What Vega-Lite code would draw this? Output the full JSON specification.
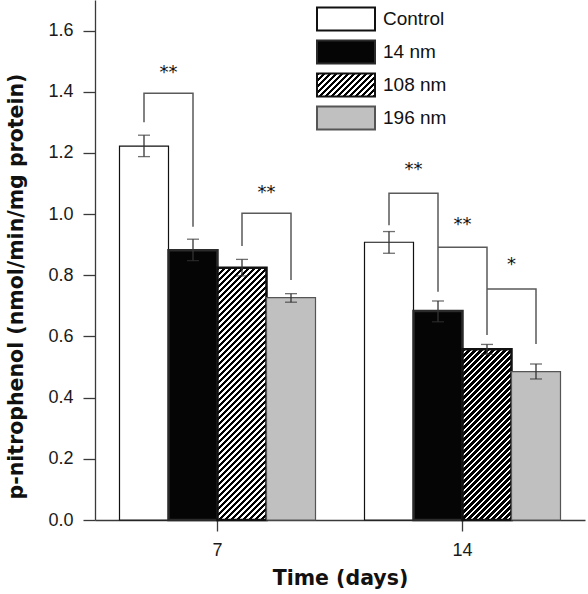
{
"$schema":"https://vega.github.io/schema/vega-lite/v6.json",
"width":490,"height":520,
"autosize":{"type":"none"},
"padding":{"left":95,"top":0,"right":3,"bottom":74},
"background":"white",
"config":{"view":{"stroke":null},"font":"Liberation Sans",
 "axis":{"domainColor":"#3a3a3a","tickColor":"#3a3a3a","domainWidth":1.3,"tickWidth":1.3,"labelColor":"#1a1a1a","titleColor":"#111111","labelFont":"Liberation Sans","titleFont":"DejaVu Sans","titleFontWeight":"bold","titleFontSize":20.5,"grid":false}},
"datasets":{
 "bars":[
  {"time":"7","group":"Control","mean":1.222,"lo":1.188,"hi":1.258},
  {"time":"7","group":"14 nm","mean":0.882,"lo":0.848,"hi":0.918},
  {"time":"7","group":"108 nm","mean":0.825,"lo":0.798,"hi":0.852},
  {"time":"7","group":"196 nm","mean":0.727,"lo":0.712,"hi":0.740},
  {"time":"14","group":"Control","mean":0.908,"lo":0.872,"hi":0.943},
  {"time":"14","group":"14 nm","mean":0.683,"lo":0.648,"hi":0.716},
  {"time":"14","group":"108 nm","mean":0.558,"lo":0.542,"hi":0.574},
  {"time":"14","group":"196 nm","mean":0.485,"lo":0.461,"hi":0.510}
 ],
 "brackets":[
  {"bracket":"b1","time":"7","group":"Control","ord":1,"v":1.300},
  {"bracket":"b1","time":"7","group":"Control","ord":2,"v":1.395},
  {"bracket":"b1","time":"7","group":"14 nm","ord":3,"v":1.395},
  {"bracket":"b1","time":"7","group":"14 nm","ord":4,"v":0.959},
  {"bracket":"b2","time":"7","group":"108 nm","ord":1,"v":0.896},
  {"bracket":"b2","time":"7","group":"108 nm","ord":2,"v":1.003},
  {"bracket":"b2","time":"7","group":"196 nm","ord":3,"v":1.003},
  {"bracket":"b2","time":"7","group":"196 nm","ord":4,"v":0.785},
  {"bracket":"b3","time":"14","group":"Control","ord":1,"v":0.964},
  {"bracket":"b3","time":"14","group":"Control","ord":2,"v":1.068},
  {"bracket":"b3","time":"14","group":"14 nm","ord":3,"v":1.068},
  {"bracket":"b3","time":"14","group":"14 nm","ord":4,"v":0.746},
  {"bracket":"b4","time":"14","group":"14 nm","ord":1,"v":0.892},
  {"bracket":"b4","time":"14","group":"108 nm","ord":2,"v":0.892},
  {"bracket":"b4","time":"14","group":"108 nm","ord":3,"v":0.605},
  {"bracket":"b5","time":"14","group":"108 nm","ord":1,"v":0.755},
  {"bracket":"b5","time":"14","group":"196 nm","ord":2,"v":0.755},
  {"bracket":"b5","time":"14","group":"196 nm","ord":3,"v":0.575}
 ],
 "stars":[
  {"time":"7","group":"14 nm","label":"**","v":1.445},
  {"time":"7","group":"196 nm","label":"**","v":1.054},
  {"time":"14","group":"14 nm","label":"**","v":1.128},
  {"time":"14","group":"108 nm","label":"**","v":0.948},
  {"time":"14","group":"196 nm","label":"*","v":0.817}
 ]
},
"encoding":{
 "x":{"field":"time","type":"nominal","sort":["7","14"],"scale":{"paddingInner":0,"paddingOuter":0},
  "axis":{"title":"Time (days)","labelAngle":0,"labelFontSize":18,"tickSize":11,"labelPadding":10,"titlePadding":9}},
 "xOffset":{"field":"group","type":"nominal","sort":["Control","14 nm","108 nm","196 nm"],
  "scale":{"domain":["Control","14 nm","108 nm","196 nm"],"paddingInner":0,"paddingOuter":0.5}}
},
"layer":[
 {"data":{"name":"bars"},"mark":{"type":"bar"},
  "encoding":{
   "y":{"field":"mean","type":"quantitative","scale":{"domain":[0,1.7],"nice":false},
    "axis":{"title":"p-nitrophenol (nmol/min/mg protein)","values":[0,0.1,0.2,0.3,0.4,0.5,0.6,0.7,0.8,0.9,1,1.1,1.2,1.3,1.4,1.5,1.6],
     "labelExpr":"round(datum.value*10) % 2 === 0 ? format(datum.value, '.1f') : ''",
     "tickSize":{"condition":{"test":"round(datum.value*10) % 2 === 0","value":12},"value":6},
     "labelFontSize":18,"labelPadding":10,"titlePadding":21,"titleFontSize":20.5,"titleY":286}},
   "fill":{"field":"group","type":"nominal",
    "scale":{"domain":["Control","14 nm","108 nm","196 nm"],"range":["#ffffff","#050505",
     {"expr":"{gradient:'linear',x1:0,y1:0,x2:4.459,y2:1.7836,stops:[{offset:0,color:'#000'},{offset:0.011,color:'#000'},{offset:0.011,color:'#fff'},{offset:0.02,color:'#fff'},{offset:0.02,color:'#000'},{offset:0.031,color:'#000'},{offset:0.031,color:'#fff'},{offset:0.04,color:'#fff'},{offset:0.04,color:'#000'},{offset:0.051,color:'#000'},{offset:0.051,color:'#fff'},{offset:0.06,color:'#fff'},{offset:0.06,color:'#000'},{offset:0.071,color:'#000'},{offset:0.071,color:'#fff'},{offset:0.08,color:'#fff'},{offset:0.08,color:'#000'},{offset:0.091,color:'#000'},{offset:0.091,color:'#fff'},{offset:0.1,color:'#fff'},{offset:0.1,color:'#000'},{offset:0.111,color:'#000'},{offset:0.111,color:'#fff'},{offset:0.12,color:'#fff'},{offset:0.12,color:'#000'},{offset:0.131,color:'#000'},{offset:0.131,color:'#fff'},{offset:0.14,color:'#fff'},{offset:0.14,color:'#000'},{offset:0.151,color:'#000'},{offset:0.151,color:'#fff'},{offset:0.16,color:'#fff'},{offset:0.16,color:'#000'},{offset:0.171,color:'#000'},{offset:0.171,color:'#fff'},{offset:0.18,color:'#fff'},{offset:0.18,color:'#000'},{offset:0.191,color:'#000'},{offset:0.191,color:'#fff'},{offset:0.2,color:'#fff'},{offset:0.2,color:'#000'},{offset:0.211,color:'#000'},{offset:0.211,color:'#fff'},{offset:0.22,color:'#fff'},{offset:0.22,color:'#000'},{offset:0.231,color:'#000'},{offset:0.231,color:'#fff'},{offset:0.24,color:'#fff'},{offset:0.24,color:'#000'},{offset:0.251,color:'#000'},{offset:0.251,color:'#fff'},{offset:0.26,color:'#fff'},{offset:0.26,color:'#000'},{offset:0.271,color:'#000'},{offset:0.271,color:'#fff'},{offset:0.28,color:'#fff'}]}"},
     "#c0c0c0"]},
    "condition":[
     {"test":"datum.group==='108 nm' && datum.time==='7'","value":{"gradient":"linear","x1":0,"y1":0,"x2":0.2225,"y2":1.1456,"stops":[
{"offset":0,"color":"#000"},{"offset":0.011,"color":"#000"},{"offset":0.011,"color":"#fff"},{"offset":0.02,"color":"#fff"},
{"offset":0.02,"color":"#000"},{"offset":0.031,"color":"#000"},{"offset":0.031,"color":"#fff"},{"offset":0.04,"color":"#fff"},
{"offset":0.04,"color":"#000"},{"offset":0.051,"color":"#000"},{"offset":0.051,"color":"#fff"},{"offset":0.06,"color":"#fff"},
{"offset":0.06,"color":"#000"},{"offset":0.071,"color":"#000"},{"offset":0.071,"color":"#fff"},{"offset":0.08,"color":"#fff"},
{"offset":0.08,"color":"#000"},{"offset":0.091,"color":"#000"},{"offset":0.091,"color":"#fff"},{"offset":0.1,"color":"#fff"},
{"offset":0.1,"color":"#000"},{"offset":0.111,"color":"#000"},{"offset":0.111,"color":"#fff"},{"offset":0.12,"color":"#fff"},
{"offset":0.12,"color":"#000"},{"offset":0.131,"color":"#000"},{"offset":0.131,"color":"#fff"},{"offset":0.14,"color":"#fff"},
{"offset":0.14,"color":"#000"},{"offset":0.151,"color":"#000"},{"offset":0.151,"color":"#fff"},{"offset":0.16,"color":"#fff"},
{"offset":0.16,"color":"#000"},{"offset":0.171,"color":"#000"},{"offset":0.171,"color":"#fff"},{"offset":0.18,"color":"#fff"},
{"offset":0.18,"color":"#000"},{"offset":0.191,"color":"#000"},{"offset":0.191,"color":"#fff"},{"offset":0.2,"color":"#fff"},
{"offset":0.2,"color":"#000"},{"offset":0.211,"color":"#000"},{"offset":0.211,"color":"#fff"},{"offset":0.22,"color":"#fff"},
{"offset":0.22,"color":"#000"},{"offset":0.231,"color":"#000"},{"offset":0.231,"color":"#fff"},{"offset":0.24,"color":"#fff"},
{"offset":0.24,"color":"#000"},{"offset":0.251,"color":"#000"},{"offset":0.251,"color":"#fff"},{"offset":0.26,"color":"#fff"},
{"offset":0.26,"color":"#000"},{"offset":0.271,"color":"#000"},{"offset":0.271,"color":"#fff"},{"offset":0.28,"color":"#fff"},
{"offset":0.28,"color":"#000"},{"offset":0.291,"color":"#000"},{"offset":0.291,"color":"#fff"},{"offset":0.3,"color":"#fff"},
{"offset":0.3,"color":"#000"},{"offset":0.311,"color":"#000"},{"offset":0.311,"color":"#fff"},{"offset":0.32,"color":"#fff"},
{"offset":0.32,"color":"#000"},{"offset":0.331,"color":"#000"},{"offset":0.331,"color":"#fff"},{"offset":0.34,"color":"#fff"},
{"offset":0.34,"color":"#000"},{"offset":0.351,"color":"#000"},{"offset":0.351,"color":"#fff"},{"offset":0.36,"color":"#fff"},
{"offset":0.36,"color":"#000"},{"offset":0.371,"color":"#000"},{"offset":0.371,"color":"#fff"},{"offset":0.38,"color":"#fff"},
{"offset":0.38,"color":"#000"},{"offset":0.391,"color":"#000"},{"offset":0.391,"color":"#fff"},{"offset":0.4,"color":"#fff"},
{"offset":0.4,"color":"#000"},{"offset":0.411,"color":"#000"},{"offset":0.411,"color":"#fff"},{"offset":0.42,"color":"#fff"},
{"offset":0.42,"color":"#000"},{"offset":0.431,"color":"#000"},{"offset":0.431,"color":"#fff"},{"offset":0.44,"color":"#fff"},
{"offset":0.44,"color":"#000"},{"offset":0.451,"color":"#000"},{"offset":0.451,"color":"#fff"},{"offset":0.46,"color":"#fff"},
{"offset":0.46,"color":"#000"},{"offset":0.471,"color":"#000"},{"offset":0.471,"color":"#fff"},{"offset":0.48,"color":"#fff"},
{"offset":0.48,"color":"#000"},{"offset":0.491,"color":"#000"},{"offset":0.491,"color":"#fff"},{"offset":0.5,"color":"#fff"},
{"offset":0.5,"color":"#000"},{"offset":0.511,"color":"#000"},{"offset":0.511,"color":"#fff"},{"offset":0.52,"color":"#fff"},
{"offset":0.52,"color":"#000"},{"offset":0.531,"color":"#000"},{"offset":0.531,"color":"#fff"},{"offset":0.54,"color":"#fff"},
{"offset":0.54,"color":"#000"},{"offset":0.551,"color":"#000"},{"offset":0.551,"color":"#fff"},{"offset":0.56,"color":"#fff"},
{"offset":0.56,"color":"#000"},{"offset":0.571,"color":"#000"},{"offset":0.571,"color":"#fff"},{"offset":0.58,"color":"#fff"},
{"offset":0.58,"color":"#000"},{"offset":0.591,"color":"#000"},{"offset":0.591,"color":"#fff"},{"offset":0.6,"color":"#fff"},
{"offset":0.6,"color":"#000"},{"offset":0.611,"color":"#000"},{"offset":0.611,"color":"#fff"},{"offset":0.62,"color":"#fff"},
{"offset":0.62,"color":"#000"},{"offset":0.631,"color":"#000"},{"offset":0.631,"color":"#fff"},{"offset":0.64,"color":"#fff"},
{"offset":0.64,"color":"#000"},{"offset":0.651,"color":"#000"},{"offset":0.651,"color":"#fff"},{"offset":0.66,"color":"#fff"},
{"offset":0.66,"color":"#000"},{"offset":0.671,"color":"#000"},{"offset":0.671,"color":"#fff"},{"offset":0.68,"color":"#fff"},
{"offset":0.68,"color":"#000"},{"offset":0.691,"color":"#000"},{"offset":0.691,"color":"#fff"},{"offset":0.7,"color":"#fff"},
{"offset":0.7,"color":"#000"},{"offset":0.711,"color":"#000"},{"offset":0.711,"color":"#fff"},{"offset":0.72,"color":"#fff"},
{"offset":0.72,"color":"#000"},{"offset":0.731,"color":"#000"},{"offset":0.731,"color":"#fff"},{"offset":0.74,"color":"#fff"},
{"offset":0.74,"color":"#000"},{"offset":0.751,"color":"#000"},{"offset":0.751,"color":"#fff"},{"offset":0.76,"color":"#fff"},
{"offset":0.76,"color":"#000"},{"offset":0.771,"color":"#000"},{"offset":0.771,"color":"#fff"},{"offset":0.78,"color":"#fff"},
{"offset":0.78,"color":"#000"},{"offset":0.791,"color":"#000"},{"offset":0.791,"color":"#fff"},{"offset":0.8,"color":"#fff"},
{"offset":0.8,"color":"#000"},{"offset":0.811,"color":"#000"},{"offset":0.811,"color":"#fff"},{"offset":0.82,"color":"#fff"},
{"offset":0.82,"color":"#000"},{"offset":0.831,"color":"#000"},{"offset":0.831,"color":"#fff"},{"offset":0.84,"color":"#fff"},
{"offset":0.84,"color":"#000"},{"offset":0.851,"color":"#000"},{"offset":0.851,"color":"#fff"},{"offset":0.86,"color":"#fff"},
{"offset":0.86,"color":"#000"},{"offset":0.871,"color":"#000"},{"offset":0.871,"color":"#fff"},{"offset":0.88,"color":"#fff"},
{"offset":0.88,"color":"#000"},{"offset":0.891,"color":"#000"},{"offset":0.891,"color":"#fff"},{"offset":0.9,"color":"#fff"},
{"offset":0.9,"color":"#000"},{"offset":0.911,"color":"#000"},{"offset":0.911,"color":"#fff"},{"offset":0.92,"color":"#fff"},
{"offset":0.92,"color":"#000"},{"offset":0.931,"color":"#000"},{"offset":0.931,"color":"#fff"},{"offset":0.94,"color":"#fff"},
{"offset":0.94,"color":"#000"},{"offset":0.951,"color":"#000"},{"offset":0.951,"color":"#fff"},{"offset":0.96,"color":"#fff"},
{"offset":0.96,"color":"#000"},{"offset":0.971,"color":"#000"},{"offset":0.971,"color":"#fff"},{"offset":0.98,"color":"#fff"},
{"offset":0.98,"color":"#000"},{"offset":0.991,"color":"#000"},{"offset":0.991,"color":"#fff"},{"offset":1,"color":"#fff"}
     ]}},
     {"test":"datum.group==='108 nm' && datum.time==='14'","value":{"gradient":"linear","x1":0,"y1":0,"x2":0.4662,"y2":1.6238,"stops":[
{"offset":0,"color":"#000"},{"offset":0.011,"color":"#000"},{"offset":0.011,"color":"#fff"},{"offset":0.02,"color":"#fff"},
{"offset":0.02,"color":"#000"},{"offset":0.031,"color":"#000"},{"offset":0.031,"color":"#fff"},{"offset":0.04,"color":"#fff"},
{"offset":0.04,"color":"#000"},{"offset":0.051,"color":"#000"},{"offset":0.051,"color":"#fff"},{"offset":0.06,"color":"#fff"},
{"offset":0.06,"color":"#000"},{"offset":0.071,"color":"#000"},{"offset":0.071,"color":"#fff"},{"offset":0.08,"color":"#fff"},
{"offset":0.08,"color":"#000"},{"offset":0.091,"color":"#000"},{"offset":0.091,"color":"#fff"},{"offset":0.1,"color":"#fff"},
{"offset":0.1,"color":"#000"},{"offset":0.111,"color":"#000"},{"offset":0.111,"color":"#fff"},{"offset":0.12,"color":"#fff"},
{"offset":0.12,"color":"#000"},{"offset":0.131,"color":"#000"},{"offset":0.131,"color":"#fff"},{"offset":0.14,"color":"#fff"},
{"offset":0.14,"color":"#000"},{"offset":0.151,"color":"#000"},{"offset":0.151,"color":"#fff"},{"offset":0.16,"color":"#fff"},
{"offset":0.16,"color":"#000"},{"offset":0.171,"color":"#000"},{"offset":0.171,"color":"#fff"},{"offset":0.18,"color":"#fff"},
{"offset":0.18,"color":"#000"},{"offset":0.191,"color":"#000"},{"offset":0.191,"color":"#fff"},{"offset":0.2,"color":"#fff"},
{"offset":0.2,"color":"#000"},{"offset":0.211,"color":"#000"},{"offset":0.211,"color":"#fff"},{"offset":0.22,"color":"#fff"},
{"offset":0.22,"color":"#000"},{"offset":0.231,"color":"#000"},{"offset":0.231,"color":"#fff"},{"offset":0.24,"color":"#fff"},
{"offset":0.24,"color":"#000"},{"offset":0.251,"color":"#000"},{"offset":0.251,"color":"#fff"},{"offset":0.26,"color":"#fff"},
{"offset":0.26,"color":"#000"},{"offset":0.271,"color":"#000"},{"offset":0.271,"color":"#fff"},{"offset":0.28,"color":"#fff"},
{"offset":0.28,"color":"#000"},{"offset":0.291,"color":"#000"},{"offset":0.291,"color":"#fff"},{"offset":0.3,"color":"#fff"},
{"offset":0.3,"color":"#000"},{"offset":0.311,"color":"#000"},{"offset":0.311,"color":"#fff"},{"offset":0.32,"color":"#fff"},
{"offset":0.32,"color":"#000"},{"offset":0.331,"color":"#000"},{"offset":0.331,"color":"#fff"},{"offset":0.34,"color":"#fff"},
{"offset":0.34,"color":"#000"},{"offset":0.351,"color":"#000"},{"offset":0.351,"color":"#fff"},{"offset":0.36,"color":"#fff"},
{"offset":0.36,"color":"#000"},{"offset":0.371,"color":"#000"},{"offset":0.371,"color":"#fff"},{"offset":0.38,"color":"#fff"},
{"offset":0.38,"color":"#000"},{"offset":0.391,"color":"#000"},{"offset":0.391,"color":"#fff"},{"offset":0.4,"color":"#fff"},
{"offset":0.4,"color":"#000"},{"offset":0.411,"color":"#000"},{"offset":0.411,"color":"#fff"},{"offset":0.42,"color":"#fff"},
{"offset":0.42,"color":"#000"},{"offset":0.431,"color":"#000"},{"offset":0.431,"color":"#fff"},{"offset":0.44,"color":"#fff"},
{"offset":0.44,"color":"#000"},{"offset":0.451,"color":"#000"},{"offset":0.451,"color":"#fff"},{"offset":0.46,"color":"#fff"},
{"offset":0.46,"color":"#000"},{"offset":0.471,"color":"#000"},{"offset":0.471,"color":"#fff"},{"offset":0.48,"color":"#fff"},
{"offset":0.48,"color":"#000"},{"offset":0.491,"color":"#000"},{"offset":0.491,"color":"#fff"},{"offset":0.5,"color":"#fff"},
{"offset":0.5,"color":"#000"},{"offset":0.511,"color":"#000"},{"offset":0.511,"color":"#fff"},{"offset":0.52,"color":"#fff"},
{"offset":0.52,"color":"#000"},{"offset":0.531,"color":"#000"},{"offset":0.531,"color":"#fff"},{"offset":0.54,"color":"#fff"},
{"offset":0.54,"color":"#000"},{"offset":0.551,"color":"#000"},{"offset":0.551,"color":"#fff"},{"offset":0.56,"color":"#fff"},
{"offset":0.56,"color":"#000"},{"offset":0.571,"color":"#000"},{"offset":0.571,"color":"#fff"},{"offset":0.58,"color":"#fff"},
{"offset":0.58,"color":"#000"},{"offset":0.591,"color":"#000"},{"offset":0.591,"color":"#fff"},{"offset":0.6,"color":"#fff"},
{"offset":0.6,"color":"#000"},{"offset":0.611,"color":"#000"},{"offset":0.611,"color":"#fff"},{"offset":0.62,"color":"#fff"},
{"offset":0.62,"color":"#000"},{"offset":0.631,"color":"#000"},{"offset":0.631,"color":"#fff"},{"offset":0.64,"color":"#fff"},
{"offset":0.64,"color":"#000"},{"offset":0.651,"color":"#000"},{"offset":0.651,"color":"#fff"},{"offset":0.66,"color":"#fff"},
{"offset":0.66,"color":"#000"},{"offset":0.671,"color":"#000"},{"offset":0.671,"color":"#fff"},{"offset":0.68,"color":"#fff"},
{"offset":0.68,"color":"#000"},{"offset":0.691,"color":"#000"},{"offset":0.691,"color":"#fff"},{"offset":0.7,"color":"#fff"},
{"offset":0.7,"color":"#000"},{"offset":0.711,"color":"#000"},{"offset":0.711,"color":"#fff"},{"offset":0.72,"color":"#fff"},
{"offset":0.72,"color":"#000"},{"offset":0.731,"color":"#000"},{"offset":0.731,"color":"#fff"},{"offset":0.74,"color":"#fff"}
     ]}}
    ],
    "legend":{"title":null,"orient":"none","legendX":238,"legendY":6,
     "symbolType":"M-2.5,-1H2.5V1H-2.5Z","symbolSize":538.24,"symbolStrokeWidth":2,
     "labelFontSize":19,"labelFont":"Liberation Sans","labelColor":"#111111","labelOffset":24,"rowPadding":1,"padding":0}},
   "stroke":{"field":"group","type":"nominal","scale":{"domain":["Control","14 nm","108 nm","196 nm"],"range":["#111111","#2b2b2b","#111111","#555555"]}},
   "strokeWidth":{"condition":{"test":"datum.group==='14 nm' || datum.group==='108 nm'","value":2.5},"value":1.2}
  }},
 {"data":{"name":"bars"},"mark":{"type":"rule","color":"#333333","strokeWidth":1.3},
  "encoding":{"y":{"field":"lo","type":"quantitative"},"y2":{"field":"hi"}}},
 {"data":{"name":"bars"},"mark":{"type":"tick","color":"#333333","thickness":1.3,"size":12},
  "encoding":{"y":{"field":"lo","type":"quantitative"}}},
 {"data":{"name":"bars"},"mark":{"type":"tick","color":"#333333","thickness":1.3,"size":12},
  "encoding":{"y":{"field":"hi","type":"quantitative"}}},
 {"data":{"name":"brackets"},"mark":{"type":"line","color":"#5a5a5a","strokeWidth":1.5},
  "encoding":{"y":{"field":"v","type":"quantitative"},"detail":{"field":"bracket"},"order":{"field":"ord","type":"quantitative"}}},
 {"data":{"name":"stars"},"mark":{"type":"text","font":"DejaVu Sans","fontSize":18,"dx":-24.5,"baseline":"alphabetic","align":"center","color":"#111111"},
  "encoding":{"y":{"field":"v","type":"quantitative"},"text":{"field":"label"}}}
]
}
